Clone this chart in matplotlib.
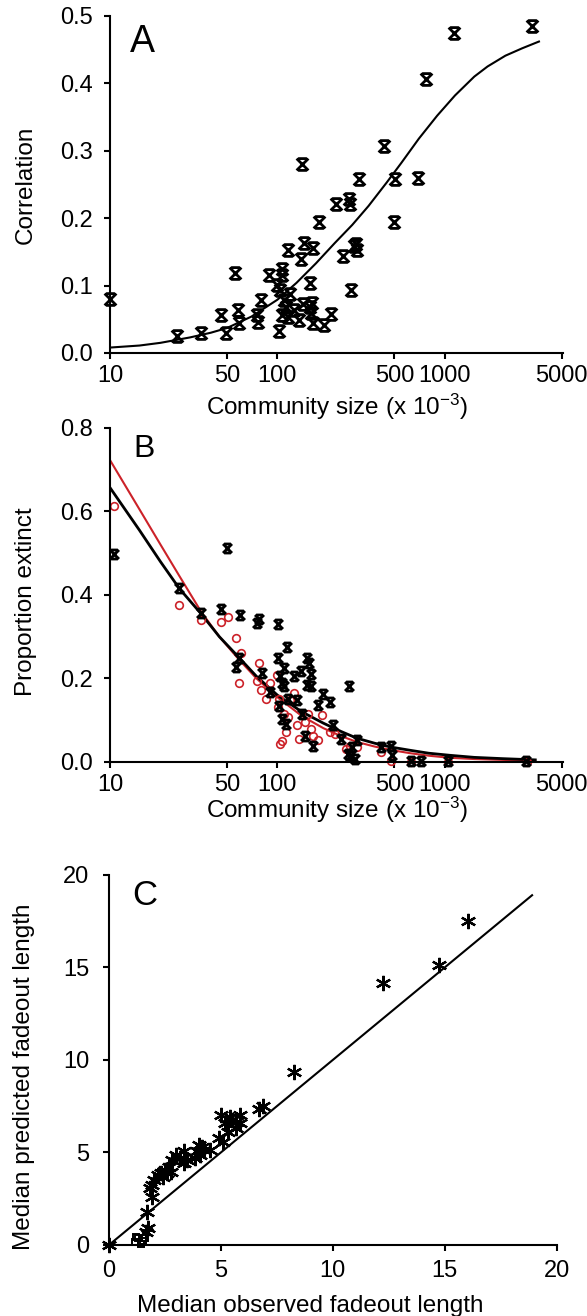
import numpy as np
import matplotlib
matplotlib.use('Agg')
import matplotlib.pyplot as plt
from matplotlib.path import Path
from matplotlib.ticker import NullLocator

plt.rcParams['font.family'] = ['Liberation Sans', 'DejaVu Sans']
plt.rcParams['mathtext.default'] = 'regular'

#
#  Data
#
# A: correlation against community size (thousands)
a_size = [10, 25.1, 35.1, 45.8, 49.5, 55.8, 58.5, 59.2, 76, 77, 80.2, 88.8,
          102, 99.6, 104, 107, 107, 106, 110, 113, 116, 119, 116, 126, 135,
          141, 139, 144, 143, 157, 158, 162, 163, 157, 163, 178, 190, 210,
          225, 245, 268, 272, 277, 287, 294, 299, 309, 436, 501, 496, 692,
          777, 1128, 3300]
a_corr = [0.080, 0.025, 0.030, 0.057, 0.029, 0.118, 0.063, 0.045, 0.056,
          0.046, 0.078, 0.116, 0.033, 0.101, 0.093, 0.125, 0.116, 0.056,
          0.078, 0.068, 0.054, 0.088, 0.152, 0.063, 0.049, 0.280, 0.140,
          0.163, 0.073, 0.068, 0.059, 0.074, 0.155, 0.104, 0.044, 0.195,
          0.041, 0.058, 0.221, 0.144, 0.228, 0.221, 0.094, 0.158, 0.162,
          0.153, 0.258, 0.307, 0.258, 0.195, 0.259, 0.406, 0.475, 0.485]
a_fit_size = [10, 15, 20, 30, 40, 50, 70, 100, 130, 170, 220, 280, 350,
              450, 550, 700, 900, 1150, 1500, 1800, 2300, 2900, 3650]
a_fit_corr = [0.008, 0.011, 0.015, 0.023, 0.030, 0.037, 0.054, 0.079,
              0.104, 0.133, 0.163, 0.190, 0.218, 0.253, 0.282, 0.318,
              0.352, 0.382, 0.410, 0.425, 0.441, 0.452, 0.462]

# B: proportion extinct, observed (black) and simulated (red)
b_obs_size = [10.5, 25.9, 35, 50.3, 45.8, 59.7, 56.4, 58.7, 76, 78, 81,
              89.7, 100.5, 100.5, 102, 104, 106, 106, 109, 110, 113, 114,
              116, 126, 131, 139, 141, 147, 150, 154, 150, 158, 158, 163,
              175, 187, 207, 216, 239, 268, 264, 272, 278, 291, 299, 418,
              480, 484, 632, 719, 1042, 3050]
b_obs_ext = [0.498, 0.416, 0.357, 0.513, 0.366, 0.352, 0.228, 0.249, 0.334,
             0.343, 0.213, 0.168, 0.330, 0.250, 0.134, 0.205, 0.189, 0.104,
             0.225, 0.181, 0.092, 0.276, 0.152, 0.205, 0.148, 0.217, 0.116,
             0.063, 0.249, 0.237, 0.185, 0.182, 0.211, 0.039, 0.136, 0.162,
             0.144, 0.088, 0.055, 0.182, 0.019, 0.015, 0.035, 0.007, 0.053,
             0.036, 0.039, 0.017, 0.002, 0.002, 0.002, 0.002]
b_sim_size = [10.5, 25.9, 35, 45.8, 50.7, 56.4, 60.3, 58.7, 78, 76, 80.2,
              86, 89.7, 99, 100.5, 102, 104, 106, 110, 113, 116, 119, 126,
              131, 135, 147, 152, 158, 163, 175, 185, 205, 222, 258, 272,
              299, 418, 480, 632, 1042, 3100]
b_sim_ext = [0.614, 0.377, 0.339, 0.336, 0.347, 0.296, 0.262, 0.189, 0.237,
             0.194, 0.173, 0.152, 0.189, 0.209, 0.132, 0.152, 0.043, 0.051,
             0.116, 0.071, 0.108, 0.148, 0.164, 0.088, 0.055, 0.096, 0.116,
             0.079, 0.063, 0.053, 0.112, 0.071, 0.067, 0.031, 0.039, 0.035,
             0.023, 0.002, 0.0, 0.0, 0.0]
b_fit_size = [10, 15, 20, 26, 35, 45, 59, 75, 100, 140, 188, 240, 298, 380,
              471, 620, 800, 1070, 1500, 2200, 3470]
b_fit_obs = [0.657, 0.555, 0.480, 0.415, 0.355, 0.300, 0.250, 0.205, 0.160,
             0.120, 0.093, 0.073, 0.057, 0.045, 0.036, 0.028, 0.021, 0.016,
             0.011, 0.008, 0.005]
b_fit_sim = [0.723, 0.605, 0.521, 0.445, 0.360, 0.300, 0.245, 0.200, 0.155,
             0.110, 0.081, 0.062, 0.048, 0.037, 0.029, 0.021, 0.015, 0.010,
             0.007, 0.005, 0.003]

# C: median fadeout length, observed vs predicted
c_obs = [0, 1.67, 1.75, 1.69, 1.92, 1.83, 1.92, 2.0, 2.17, 2.33, 2.42, 2.5,
         2.58, 2.67, 2.75, 2.83, 3.0, 3.17, 3.33, 3.33, 3.5, 3.83, 3.92, 4.0,
         4.08, 4.17, 4.25, 4.5, 4.9, 5.08, 5.0, 5.17, 5.33, 5.42, 5.5, 5.67,
         5.67, 5.83, 5.83, 6.72, 6.88, 8.28, 12.25, 14.75, 16.03]
c_pred = [0, 0.72, 0.90, 1.80, 2.61, 3.06, 3.24, 3.51, 3.78, 3.87, 3.69,
          4.05, 3.87, 4.23, 3.96, 4.59, 4.86, 4.68, 5.05, 4.41, 4.59, 4.68,
          5.05, 5.41, 4.86, 5.32, 5.14, 5.14, 5.80, 5.59, 7.03, 6.58, 6.13,
          6.94, 6.76, 6.31, 6.67, 7.03, 6.58, 7.33, 7.51, 9.32, 14.14, 15.14,
          17.53]
c_sq_obs = [1.15, 1.30, 1.50, 1.60, 1.20, 1.45]
c_sq_pred = [0.15, 0.35, 0.20, 0.40, 0.45, 0.05]
c_line = [0, 18.9]

size_ticks = [10, 50, 100, 500, 1000, 5000]
a_yticks = [0.0, 0.1, 0.2, 0.3, 0.4, 0.5]
b_yticks = [0.0, 0.2, 0.4, 0.6, 0.8]
c_ticks = [0, 5, 10, 15, 20]

RED = '#cc2229'
TICK_FS = 17
LABEL_FS = 17.5

# X with flat caps top and bottom
bowtie = Path([(-1, -1), (1, 1), (-1, 1), (1, -1),
               (-0.75, 1), (0.75, 1), (-0.75, -1), (0.75, -1)],
              [Path.MOVETO, Path.LINETO, Path.MOVETO, Path.LINETO,
               Path.MOVETO, Path.LINETO, Path.MOVETO, Path.LINETO])


def style_axes(ax, xpad=5, ypad=8):
    for side in ['top', 'right']:
        ax.spines[side].set_visible(False)
    for side in ['left', 'bottom']:
        ax.spines[side].set_linewidth(1.5)
    ax.tick_params(axis='both', direction='out', length=4, width=1.5,
                   labelsize=TICK_FS, colors='black')
    ax.tick_params(axis='x', pad=xpad)
    ax.tick_params(axis='y', pad=ypad)


def log_size_axis(ax):
    ax.set_xscale('log')
    ax.set_xlim(10, 5080)
    ax.set_xticks(size_ticks)
    ax.set_xticklabels([str(t) for t in size_ticks])
    ax.xaxis.set_minor_locator(NullLocator())


def main():
    fig = plt.figure(figsize=(5.87, 13.16), dpi=100)

    # Panel A
    ax = fig.add_axes([0.1874, 0.7318, 0.7717, 0.2561])
    style_axes(ax)
    log_size_axis(ax)
    ax.set_ylim(0, 0.5)
    ax.set_yticks(a_yticks)
    ax.set_yticklabels([f'{t:.1f}' for t in a_yticks])
    ax.plot(a_fit_size, a_fit_corr, color='black', lw=1.5)
    ax.plot(a_size, a_corr, ls='none', marker=bowtie, ms=8.5, mew=2,
            mec='black', mfc='none', clip_on=False)
    ax.set_ylabel('Correlation', fontsize=LABEL_FS)
    ax.yaxis.set_label_coords(-0.162, 0.5)
    ax.set_xlabel('Community size (x 10$^{-3}$)', fontsize=LABEL_FS)
    ax.xaxis.set_label_coords(0.5, -0.115)

    # Panel B
    ax = fig.add_axes([0.1874, 0.4210, 0.7717, 0.2538])
    style_axes(ax)
    log_size_axis(ax)
    ax.set_ylim(0, 0.8)
    ax.set_yticks(b_yticks)
    ax.set_yticklabels([f'{t:.1f}' for t in b_yticks])
    ax.plot(b_fit_size, b_fit_sim, color=RED, lw=1.5)
    ax.plot(b_fit_size, b_fit_obs, color='black', lw=2)
    ax.plot(b_sim_size, b_sim_ext, ls='none', marker='o', ms=5.5, mew=1.2,
            mec=RED, mfc='none', clip_on=False)
    ax.plot(b_obs_size, b_obs_ext, ls='none', marker=bowtie, ms=6.5, mew=2,
            mec='black', mfc='none', clip_on=False)
    ax.set_ylabel('Proportion extinct', fontsize=LABEL_FS)
    ax.yaxis.set_label_coords(-0.162, 0.48)
    ax.set_xlabel('Community size (x 10$^{-3}$)', fontsize=LABEL_FS)
    ax.xaxis.set_label_coords(0.5, -0.097)

    # Panel C
    ax = fig.add_axes([0.1857, 0.0540, 0.7627, 0.2812])
    style_axes(ax, xpad=7, ypad=10)
    ax.set_xlim(0, 20)
    ax.set_ylim(0, 20)
    ax.set_xticks(c_ticks)
    ax.set_yticks(c_ticks)
    ax.plot(c_line, c_line, color='black', lw=1.5)
    ax.plot(c_sq_obs, c_sq_pred, ls='none', marker='s', ms=5, mew=1.4,
            mec='black', mfc='none', clip_on=False)
    ax.plot(c_obs, c_pred, ls='none', marker=(6, 2, 0), ms=11, mew=1.6,
            mec='black', clip_on=False)
    ax.set_ylabel('Median predicted fadeout length', fontsize=LABEL_FS)
    ax.yaxis.set_label_coords(-0.165, 0.454)
    ax.set_xlabel('Median observed fadeout length', fontsize=LABEL_FS)
    ax.xaxis.set_label_coords(0.449, -0.135)

    # Panel letters
    fig.text(0.2215, 0.9605, 'A', fontsize=27, va='baseline')
    fig.text(0.2266, 0.6527, 'B', fontsize=23, va='baseline')
    fig.text(0.2249, 0.3123, 'C', fontsize=25, va='baseline')

    fig.savefig('out.png', dpi=100)


if __name__ == "__main__":
    main()
